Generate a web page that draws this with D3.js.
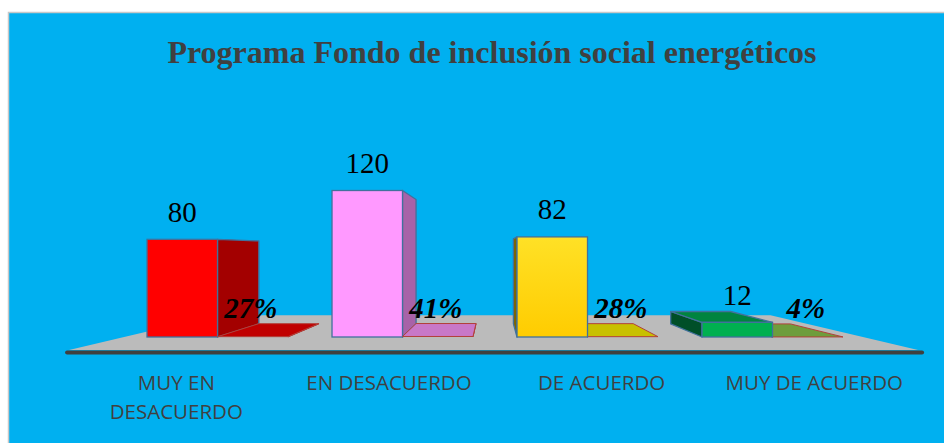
<!DOCTYPE html>
<html>
<head>
<meta charset="utf-8">
<script src="https://cdn.jsdelivr.net/npm/d3@7/dist/d3.min.js"></script>
<style>
  html, body { margin: 0; padding: 0; background: #ffffff; }
  svg { display: block; }
</style>
</head>
<body>
<svg id="chart" width="944" height="443"></svg>
<script>
// ---- data ----
const title = "Programa Fondo de inclusión social energéticos";
const categories = ["MUY EN DESACUERDO", "EN DESACUERDO", "DE ACUERDO", "MUY DE ACUERDO"];
const categoryLines = [["MUY EN", "DESACUERDO"], ["EN DESACUERDO"], ["DE ACUERDO"], ["MUY DE ACUERDO"]];
const counts = [80, 120, 82, 12];
const percents = [0.27, 0.41, 0.28, 0.04];
const percentLabels = ["27%", "41%", "28%", "4%"];
const series = ["Cantidad", "Porcentaje"];

// ---- styles ----
const frontColors = ["#FF0000", "#FF99FF", "#FFD500", "#00B050"];
const sideColors  = ["#A30000", "#A862A8", "#7F6500", "#004F28"];
const topColors   = ["#C00000", "#CC33CC", "#CCAA00", "#00843F"];
const flatColors  = ["#C00000", "#C878C8", "#C8C000", "#6E9D3C"];
const flatSide    = ["#900000", "#A060A0", "#908800", "#4E7028"];

const svg = d3.select("#chart");
const W = 944, H = 443;

// background panel
svg.append("rect").attr("x", 0).attr("y", 0).attr("width", W).attr("height", H).attr("fill", "#ffffff");
svg.append("rect").attr("x", 8.5).attr("y", 12.5).attr("width", W).attr("height", H)
  .attr("fill", "#00B0F0").attr("stroke", "#C8C8C8").attr("stroke-width", 1.5);

// ---- simple perspective projection ----
const VPx = 493, VPy = 250, baseY = 337;
function proj(X, Y, Z) {
  return [VPx + (X - VPx) / Z, VPy + (baseY - Y - VPy) / Z];
}
const zBarFront = 1, zBarBack = 1 / 0.85;
const zFloorFront = 0.861, zFloorBack = 1.319, zLabel = 0.87;

// scales (in bar-front plane)
const xBand = d3.scaleBand().domain(categories).range([125, 865]).paddingInner(0.238).paddingOuter(0.119);
const xInner = d3.scaleBand().domain(series).range([0, xBand.bandwidth()]).padding(0);
const yScale = d3.scaleLinear().domain([0, 120]).range([0, 146.5]);

const line = d3.line();
const poly = pts => line(pts) + "Z";

// floor
const floorX0 = 128, floorX1 = 859;
const floorPts = [proj(floorX0, 1, zFloorFront), proj(floorX1, 1, zFloorFront),
                  proj(floorX1, 1, zFloorBack), proj(floorX0, 1, zFloorBack)];
svg.append("path").attr("d", poly(floorPts)).attr("fill", "#BBBBBB");
const fl = proj(floorX0, 0, zFloorFront), fr = proj(floorX1, 0, zFloorFront);
svg.append("line").attr("x1", fl[0] - 2).attr("x2", fr[0] + 4).attr("y1", fl[1] + 1.5).attr("y2", fr[1] + 1.5)
  .attr("stroke", "#3F3F3F").attr("stroke-width", 4).attr("stroke-linecap", "round");

// title
svg.append("text").attr("x", 492).attr("y", 63).attr("text-anchor", "middle")
  .attr("font-family", "'Liberation Serif', 'Times New Roman', serif").attr("font-weight", "bold")
  .attr("font-size", 32).attr("fill", "#404040").text(title);

// boxes
const boxes = [];
categories.forEach((c, i) => {
  boxes.push({i, kind: "count", x0: xBand(c) + xInner(series[0]), x1: xBand(c) + xInner(series[0]) + xInner.bandwidth(), h: yScale(counts[i])});
  boxes.push({i, kind: "pct", x0: xBand(c) + xInner(series[1]), x1: xBand(c) + xInner(series[1]) + xInner.bandwidth(), h: yScale(percents[i])});
});
// draw from outside toward the center
boxes.forEach(b => b.dist = Math.abs((b.x0 + b.x1) / 2 - VPx));
boxes.sort((a, b) => b.dist - a.dist);

const defs = svg.append("defs");
const grad = defs.append("linearGradient").attr("id", "yellowGrad").attr("x1", 0).attr("y1", 0).attr("x2", 0).attr("y2", 1);
grad.append("stop").attr("offset", "0%").attr("stop-color", "#FFE126");
grad.append("stop").attr("offset", "100%").attr("stop-color", "#FFCC00");

const gBars = svg.append("g");
boxes.forEach(b => {
  const isCount = b.kind === "count";
  const stroke = isCount ? "#41719C" : "#B2403A";
  const sw = isCount ? 1.3 : 1;
  const fTop = isCount ? topColors[b.i] : flatColors[b.i];
  const fSide = isCount ? sideColors[b.i] : flatSide[b.i];
  const g = gBars.append("g");
  // side face
  if (b.x1 <= VPx) {
    const pts = [proj(b.x1, 0, zBarFront), proj(b.x1, b.h, zBarFront), proj(b.x1, b.h, zBarBack), proj(b.x1, 0, zBarBack)];
    g.append("path").attr("d", poly(pts)).attr("fill", fSide).attr("stroke", stroke).attr("stroke-width", sw).attr("stroke-linejoin", "round");
  } else if (b.x0 >= VPx) {
    const pts = [proj(b.x0, 0, zBarFront), proj(b.x0, b.h, zBarFront), proj(b.x0, b.h, zBarBack), proj(b.x0, 0, zBarBack)];
    g.append("path").attr("d", poly(pts)).attr("fill", fSide).attr("stroke", stroke).attr("stroke-width", sw).attr("stroke-linejoin", "round");
  }
  // top face (visible when below eye level)
  if (baseY - b.h > VPy) {
    const pts = [proj(b.x0, b.h, zBarFront), proj(b.x1, b.h, zBarFront), proj(b.x1, b.h, zBarBack), proj(b.x0, b.h, zBarBack)];
    g.append("path").attr("d", poly(pts)).attr("fill", fTop).attr("stroke", stroke).attr("stroke-width", sw).attr("stroke-linejoin", "round");
  }
  // front face
  if (isCount) {
    const p0 = proj(b.x0, b.h, zBarFront), p1 = proj(b.x1, 0, zBarFront);
    g.append("rect").attr("x", p0[0]).attr("y", p0[1]).attr("width", p1[0] - p0[0]).attr("height", p1[1] - p0[1])
      .attr("fill", b.i === 2 ? "url(#yellowGrad)" : frontColors[b.i]).attr("stroke", stroke).attr("stroke-width", sw);
  }
});

// value labels
const serif = "'Liberation Serif', 'Times New Roman', serif";
categories.forEach((c, i) => {
  const x0 = xBand(c) + xInner(series[0]);
  const cx = x0 + xInner.bandwidth() / 2;
  const p = proj(cx, yScale(counts[i]), zBarFront);
  svg.append("text").attr("x", p[0]).attr("y", p[1] - 17.5).attr("text-anchor", "middle")
    .attr("font-family", serif).attr("font-size", 29).attr("fill", "#000").text(counts[i]);
  const x1 = xBand(c) + xInner(series[1]);
  const cx2 = x1 + xInner.bandwidth() / 2 - 2;
  const q = proj(cx2, yScale(percents[i]), zBarFront);
  svg.append("text").attr("x", q[0]).attr("y", q[1] - 18.5).attr("text-anchor", "middle")
    .attr("font-family", serif).attr("font-size", 29).attr("font-weight", "bold").attr("font-style", "italic")
    .attr("fill", "#000").text(percentLabels[i]);
});

// category labels on floor front plane
categories.forEach((c, i) => {
  const cx = xBand(c) + xBand.bandwidth() / 2;
  const p = proj(cx, 0, zLabel);
  const t = svg.append("text").attr("text-anchor", "middle")
    .attr("font-family", "'Open Sans', 'Noto Sans', sans-serif").attr("font-size", 20.5).attr("fill", "#404040");
  categoryLines[i].forEach((ln, k) => {
    t.append("tspan").attr("x", p[0]).attr("y", 390 + k * 28.5).text(ln);
  });
});
</script>
</body>
</html>
